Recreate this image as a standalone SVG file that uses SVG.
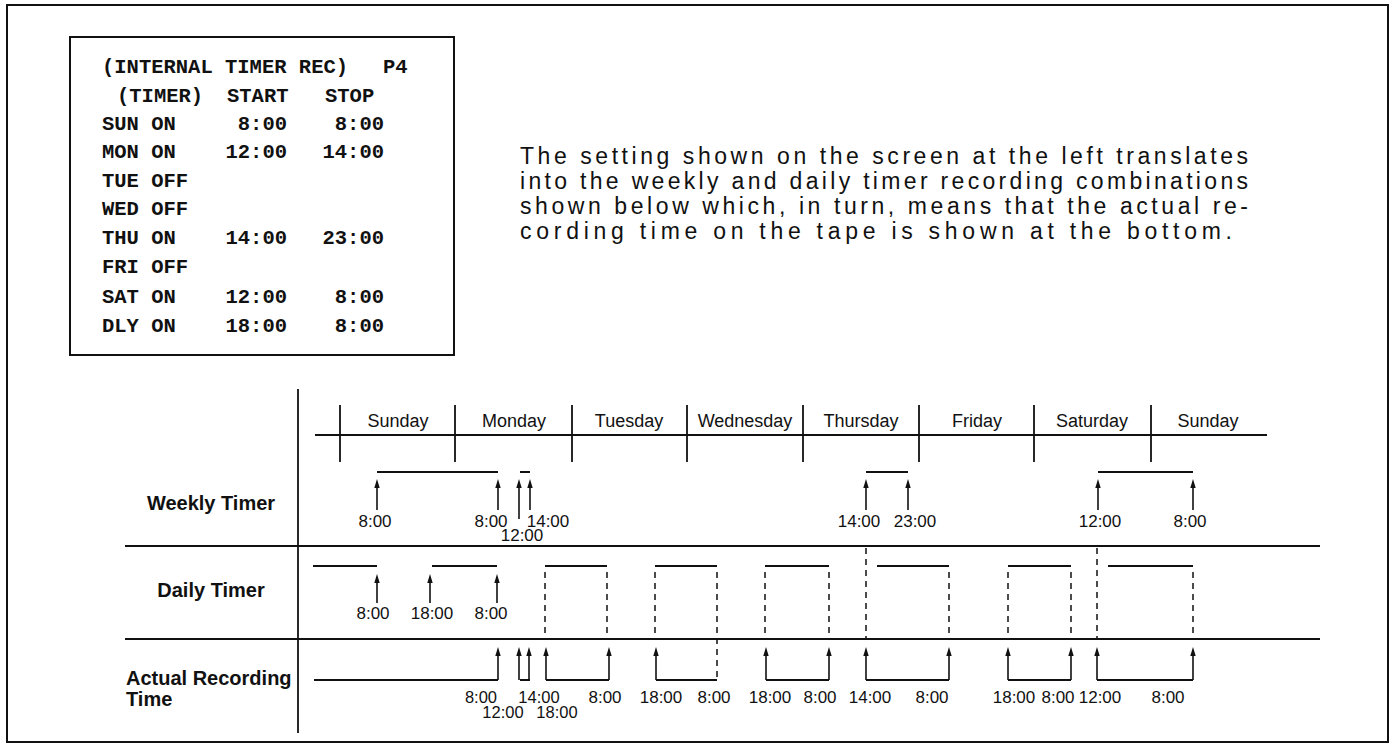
<svg xmlns="http://www.w3.org/2000/svg" width="1396" height="747" viewBox="0 0 1396 747">
<defs>
<marker id="ah" viewBox="0 0 10 6" refX="3.3" refY="3" markerWidth="9" markerHeight="5.4" orient="auto" markerUnits="userSpaceOnUse"><path d="M0,0 L10,3 L0,6 z" fill="#111"/></marker>
</defs>
<style>
.ln{stroke:#111;stroke-width:1.8;fill:none}
.bar{stroke:#111;stroke-width:1.8;fill:none}
.dash{stroke:#111;stroke-width:1.5;stroke-dasharray:6 5;fill:none}
.arr{stroke:#111;stroke-width:1.6;fill:none;marker-end:url(#ah)}
.mono{font-family:"Liberation Mono","DejaVu Sans Mono",monospace;font-weight:bold;font-size:20.5px;fill:#111}
.mono.e{text-anchor:end}
.para{font-family:"Liberation Sans",Arial,sans-serif;font-size:23px;fill:#111}
.day{font-family:"Liberation Sans",Arial,sans-serif;font-size:18px;fill:#111;text-anchor:middle}
.t{font-family:"Liberation Sans",Arial,sans-serif;font-size:17px;fill:#111;text-anchor:middle}
.t.s{font-size:16.5px}
.lbl{font-family:"Liberation Sans",Arial,sans-serif;font-size:20px;font-weight:bold;fill:#111}
</style>
<rect x="0" y="0" width="1396" height="747" fill="#fff"/>
<rect id="frame" x="7" y="5" width="1381" height="737" fill="none" stroke="#111" stroke-width="2"/>

<g id="screen">
<rect x="70" y="37" width="384" height="318" fill="none" stroke="#111" stroke-width="2"/>
<text class="mono" x="102" y="73">(INTERNAL TIMER REC)</text><text class="mono" x="383" y="73">P4</text>
<text class="mono" x="117" y="102">(TIMER)</text><text class="mono" x="227" y="102">START</text><text class="mono" x="325" y="102">STOP</text>
<text class="mono" x="102" y="130">SUN ON</text><text class="mono e" x="287" y="130">8:00</text><text class="mono e" x="384" y="130">8:00</text>
<text class="mono" x="102" y="158">MON ON</text><text class="mono e" x="287" y="158">12:00</text><text class="mono e" x="384" y="158">14:00</text>
<text class="mono" x="102" y="187">TUE OFF</text>
<text class="mono" x="102" y="215">WED OFF</text>
<text class="mono" x="102" y="244">THU ON</text><text class="mono e" x="287" y="244">14:00</text><text class="mono e" x="384" y="244">23:00</text>
<text class="mono" x="102" y="273">FRI OFF</text>
<text class="mono" x="102" y="303">SAT ON</text><text class="mono e" x="287" y="303">12:00</text><text class="mono e" x="384" y="303">8:00</text>
<text class="mono" x="102" y="332">DLY ON</text><text class="mono e" x="287" y="332">18:00</text><text class="mono e" x="384" y="332">8:00</text>
</g>

<g id="description">
<text class="para" x="520" y="164" textLength="728" lengthAdjust="spacing">The setting shown on the screen at the left translates</text>
<text class="para" x="520" y="189" textLength="728" lengthAdjust="spacing">into the weekly and daily timer recording combinations</text>
<text class="para" x="520" y="214" textLength="728" lengthAdjust="spacing">shown below which, in turn, means that the actual re-</text>
<text class="para" x="520" y="239" textLength="712" lengthAdjust="spacing">cording time on the tape is shown at the bottom.</text>
</g>

<g id="axes">
<line class="ln" x1="298" y1="389" x2="298" y2="733"/>
<line class="ln" x1="315" y1="435" x2="1267" y2="435"/>
<line class="ln" x1="125" y1="546" x2="1320" y2="546"/>
<line class="ln" x1="125" y1="639" x2="1320" y2="639"/>
<path class="ln" d="M340,405V462 M455,405V462 M572,405V462 M687,405V462 M803,405V462 M919,405V462 M1034,405V462 M1151,405V462"/>
</g>

<g id="days">
<text class="day" x="398" y="427">Sunday</text>
<text class="day" x="514" y="427">Monday</text>
<text class="day" x="629" y="427">Tuesday</text>
<text class="day" x="745" y="427">Wednesday</text>
<text class="day" x="861" y="427">Thursday</text>
<text class="day" x="977" y="427">Friday</text>
<text class="day" x="1092" y="427">Saturday</text>
<text class="day" x="1208" y="427">Sunday</text>
</g>

<g id="row-labels">
<text class="lbl" x="211" y="510" text-anchor="middle">Weekly Timer</text>
<text class="lbl" x="211" y="597" text-anchor="middle">Daily Timer</text>
<text class="lbl" x="126" y="685">Actual Recording</text>
<text class="lbl" x="126" y="706">Time</text>
</g>

<g id="weekly-timer">
<path class="bar" d="M377,472H498 M520,472H530 M866,472H908 M1098,472H1193"/>
<text class="t" x="375" y="527">8:00</text>
<text class="t" x="491" y="527">8:00</text>
<text class="t" x="548" y="527">14:00</text>
<text class="t" x="522" y="541">12:00</text>
<text class="t" x="859" y="527">14:00</text>
<text class="t" x="915" y="527">23:00</text>
<text class="t" x="1100" y="527">12:00</text>
<text class="t" x="1190" y="527">8:00</text>
</g>

<g id="daily-timer">
<path class="bar" d="M313,566H377 M432,566H497 M545,566H607 M655,566H717 M765,566H829 M877,566H949 M1008,566H1071 M1108,566H1193"/>
<text class="t" x="373" y="619">8:00</text>
<text class="t" x="432" y="619">18:00</text>
<text class="t" x="491" y="619">8:00</text>
</g>

<g id="actual-recording">
<path class="bar" d="M314,680H498 M520,680H530 M546,680H609 M656,680H717 M766,680H829 M866,680H949 M1008,680H1071 M1097,680H1193"/>
<text class="t s" x="481" y="703">8:00</text>
<text class="t s" x="539" y="703">14:00</text>
<text class="t s" x="503" y="718">12:00</text>
<text class="t s" x="557" y="718">18:00</text>
<text class="t" x="605" y="703">8:00</text>
<text class="t" x="661" y="703">18:00</text>
<text class="t" x="714" y="703">8:00</text>
<text class="t" x="770" y="703">18:00</text>
<text class="t" x="820" y="703">8:00</text>
<text class="t" x="870" y="703">14:00</text>
<text class="t" x="932" y="703">8:00</text>
<text class="t" x="1014" y="703">18:00</text>
<text class="t" x="1058" y="703">8:00</text>
<text class="t" x="1100" y="703">12:00</text>
<text class="t" x="1168" y="703">8:00</text>
</g>

<g id="connectors">
<line class="arr" x1="377" y1="510" x2="377" y2="485"/>
<line class="arr" x1="498" y1="510" x2="498" y2="485"/>
<line class="arr" x1="519" y1="519" x2="519" y2="485"/>
<line class="arr" x1="530" y1="510" x2="530" y2="485"/>
<line class="arr" x1="866" y1="510" x2="866" y2="485"/>
<line class="arr" x1="908" y1="510" x2="908" y2="485"/>
<line class="arr" x1="1098" y1="510" x2="1098" y2="485"/>
<line class="arr" x1="1193" y1="510" x2="1193" y2="485"/>
<line class="arr" x1="377" y1="603" x2="377" y2="580"/>
<line class="arr" x1="430" y1="603" x2="430" y2="580"/>
<line class="arr" x1="497" y1="603" x2="497" y2="580"/>
<path class="dash" d="M545,572V639 M607,572V639 M655,572V639 M717,572V680 M765,572V639 M829,572V639 M866,548V639 M949,572V639 M1008,572V639 M1071,572V639 M1097,548V639 M1193,572V639"/>
<line class="arr" x1="498" y1="680" x2="498" y2="653"/>
<line class="arr" x1="519" y1="680" x2="519" y2="653"/>
<line class="arr" x1="529" y1="680" x2="529" y2="653"/>
<line class="arr" x1="546" y1="680" x2="546" y2="653"/>
<line class="arr" x1="609" y1="680" x2="609" y2="653"/>
<line class="arr" x1="656" y1="680" x2="656" y2="653"/>
<line class="arr" x1="766" y1="680" x2="766" y2="653"/>
<line class="arr" x1="829" y1="680" x2="829" y2="653"/>
<line class="arr" x1="866" y1="680" x2="866" y2="653"/>
<line class="arr" x1="949" y1="680" x2="949" y2="653"/>
<line class="arr" x1="1008" y1="680" x2="1008" y2="653"/>
<line class="arr" x1="1071" y1="680" x2="1071" y2="653"/>
<line class="arr" x1="1097" y1="680" x2="1097" y2="653"/>
<line class="arr" x1="1193" y1="680" x2="1193" y2="653"/>
</g>
</svg>
